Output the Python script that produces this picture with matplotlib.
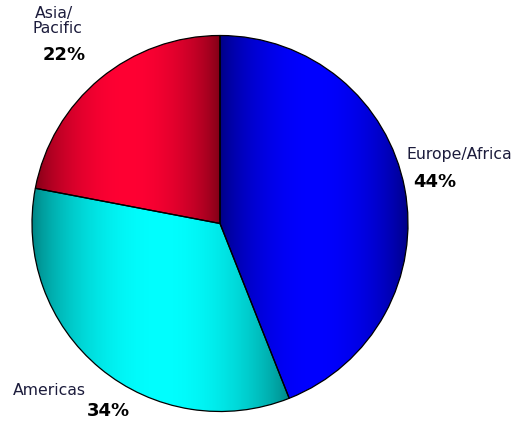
import numpy as np
import matplotlib
matplotlib.use("Agg")
import matplotlib.pyplot as plt

# regional share of sales, clockwise from 12 o'clock
regions = ["Europe/Africa", "Americas", "Asia/Pacific"]
shares = [44, 34, 22]

# (dark edge, bright centre) for the shaded fill of each slice
shades = [
    ((0, 0, 128), (0, 0, 255)),
    ((0, 128, 128), (0, 255, 255)),
    ((125, 0, 22), (255, 0, 51)),
]

W, H = 525, 423
fig = plt.figure(figsize=(W / 100, H / 100), dpi=100)

# pie centred at (220, 223.5) px with radius 188 px
cx, cy, r = 220, 223.5, 188
ax = fig.add_axes([(cx - r) / W, (H - cy - r) / H, 2 * r / W, 2 * r / H])

wedges, _ = ax.pie(shares, startangle=90, counterclock=False, radius=1,
                   wedgeprops=dict(facecolor="none", edgecolor="black",
                                   linewidth=0.9, zorder=3))

# cylinder-like shading: dark at left/right of each slice, bright in the middle
t = np.linspace(0, 1, 256)
k = np.sin(np.pi * t) ** 0.7
for w, (dark, bright) in zip(wedges, shades):
    dark = np.array(dark) / 255.0
    bright = np.array(bright) / 255.0
    row = dark[None, :] + (bright - dark)[None, :] * k[:, None]
    img = np.stack([row, row])
    ext = w.get_path().get_extents()
    im = ax.imshow(img, extent=(ext.x0, ext.x1, ext.y0, ext.y1),
                   origin="lower", aspect="auto", interpolation="bilinear",
                   zorder=1)
    im.set_clip_path(w)
    w.set_clip_on(False)

ax.set_xlim(-1, 1)
ax.set_ylim(-1, 1)
ax.set_aspect("auto")
ax.axis("off")

name_kw = dict(color="#1c1c3c", fontsize=11.3, family="DejaVu Sans",
               va="baseline")
pct_kw = dict(color="black", fontsize=13, fontweight="bold",
              family="DejaVu Sans", va="baseline")


def put(x, y, s, **kw):
    fig.text(x / W, 1 - y / H, s, **kw)


put(35, 18, "Asia/", **name_kw)
put(32, 33, "Pacific", **name_kw)
put(43, 60, f"{shares[2]}%", **pct_kw)

put(407, 159, "Europe/Africa", **name_kw)
put(413, 187, f"{shares[0]}%", **pct_kw)

put(13, 395, "Americas", **name_kw)
put(87, 416, f"{shares[1]}%", **pct_kw)

fig.savefig("out.png", dpi=100, facecolor="white")
